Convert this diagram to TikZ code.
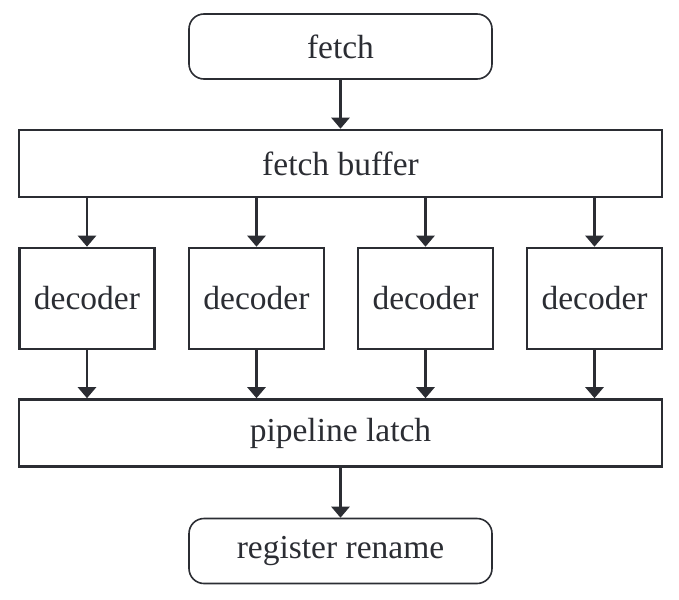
\documentclass[tikz,border=0pt]{standalone}
\usepackage{fontspec}
\setmainfont{Liberation Serif}
\usetikzlibrary{arrows.meta}
\definecolor{ink}{HTML}{2B2D33}
\begin{document}
\begin{tikzpicture}[x=1pt,y=-1pt,
  every node/.style={text=ink,font=\fontsize{33.5}{38}\selectfont},
  stage/.style={draw=ink,line width=1.6pt,rounded corners=15pt,minimum width=303pt,minimum height=65pt,inner sep=0pt},
  bar/.style={draw=ink,line width=2.6pt,minimum width=643pt,minimum height=67pt,inner sep=0pt},
  unit/.style={draw=ink,line width=2.6pt,minimum width=135pt,minimum height=101pt,inner sep=0pt},
  flow/.style={draw=ink,line width=2.6pt,-{Triangle[width=18pt,length=11pt]}}]
\useasboundingbox (0,0) rectangle (679,599);
\node[stage] (fetch) at (340.5,46.5) {fetch};
\node[bar] (buf) at (340.5,163.5) {fetch buffer};
\node[unit] (d1) at (87,298.5) {decoder};
\node[unit] (d2) at (256.5,298.5) {decoder};
\node[unit] (d3) at (425.5,298.5) {decoder};
\node[unit] (d4) at (594.5,298.5) {decoder};
\node[bar] (latch) at (340.5,433) {pipeline latch};
\node[stage] (ren) at (340.5,551) {register rename};
\draw[flow] (fetch) -- (buf);
\foreach \d in {d1,d2,d3,d4}{
  \draw[flow] (\d.north |- buf.south) -- (\d.north);
  \draw[flow] (\d.south) -- (\d.south |- latch.north);
}
\draw[flow] (latch) -- (ren);
\end{tikzpicture}
\end{document}
